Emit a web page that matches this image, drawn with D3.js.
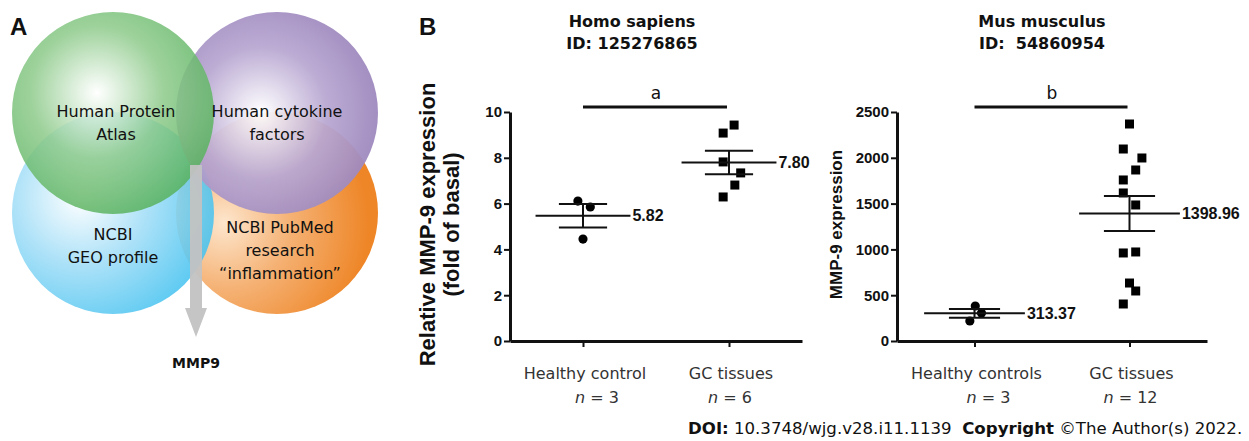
<!DOCTYPE html>
<html>
<head>
<meta charset="utf-8">
<script src="https://cdn.jsdelivr.net/npm/d3@7.9.0/dist/d3.min.js"></script>
<style>
  body { margin: 0; background: #fff; }
  svg { display: block; }
  .venn-label { font-family: "DejaVu Sans", Verdana, sans-serif; font-size: 16px; fill: #111; }
  .title { font-family: "DejaVu Sans", Verdana, sans-serif; font-size: 16px; font-weight: bold; fill: #111; }
  .panel { font-family: "Liberation Sans", Arial, sans-serif; font-size: 24px; font-weight: bold; fill: #111; }
  .tick text, .mean-label { font-family: "Liberation Sans", Arial, sans-serif; font-weight: bold; fill: #111; }
  .ylabel { font-family: "Liberation Sans", Arial, sans-serif; font-weight: bold; fill: #111; }
  .xlabel { font-family: "DejaVu Sans", Verdana, sans-serif; font-size: 16px; fill: #333; }
  .footer { font-family: "DejaVu Sans", Verdana, sans-serif; font-size: 16.6px; fill: #111; }
</style>
</head>
<body>
<svg id="fig" width="1249" height="441"></svg>
<script>
// ---- panel A: venn sources
const vennNames = ["NCBI PubMed", "NCBI GEO", "Human cytokine", "Human Protein Atlas"];
const vennLines = [
  ["NCBI PubMed", "research", "\u201Cinflammation\u201D"],
  ["NCBI", "GEO profile"],
  ["Human cytokine", "factors"],
  ["Human Protein", "Atlas"],
];
const vennCol = [1, 0, 1, 0];
const vennRow = [1, 1, 0, 0];
const vennColors = [
  ["#fde6cd", "#f5b275", "#ee8526"],
  ["#ffffff", "#a3def7", "#3bbfef"],
  ["#ffffff", "#b9a8d2", "#8f77b2"],
  ["#ffffff", "#8fcb8c", "#47aa50"],
];
const vennResult = "MMP9";

// ---- panel B: Homo sapiens
const homoTitle = ["Homo sapiens", "ID: 125276865"];
const homoGroups = ["Healthy control", "GC tissues"];
const homoN = [3, 6];
const homoHealthy = [6.11, 5.85, 4.45];
const homoGC = [9.43, 9.08, 7.82, 7.34, 6.81, 6.29];
const homoHealthyJitter = [-0.035, 0.05, 0];
const homoGCJitter = [0.035, -0.04, -0.04, 0.08, 0.04, -0.04];
const homoMeanLabels = ["5.82", "7.80"];
const homoTicks = [0, 2, 4, 6, 8, 10];
const homoYLabel = ["Relative MMP-9 expression", "(fold of basal)"];

// ---- panel B: Mus musculus
const musTitle = ["Mus musculus", "ID:\u00A0 54860954"];
const musGroups = ["Healthy controls", "GC tissues"];
const musN = [3, 12];
const musHealthy = [382, 305, 218];
const musGC = [2369, 2096, 1998, 1867, 1758, 1616, 1485, 961, 972, 633, 546, 404];
const musHealthyJitter = [0.005, 0.045, -0.03];
const musGCJitter = [0, -0.04, 0.08, 0.04, -0.04, -0.04, 0.04, -0.04, 0.04, 0, 0.04, -0.04];
const musMeanLabels = ["313.37", "1398.96"];
const musTicks = [0, 500, 1000, 1500, 2000, 2500];
const musYLabel = ["MMP-9 expression"];

const svg = d3.select("#fig");
const defs = svg.append("defs");

function renderVenn() {
  const g = svg.append("g");
  g.append("text").attr("class", "panel").attr("x", 10).attr("y", 35).text("A");

  const cx = d3.scaleLinear().domain([0, 1]).range([113, 277]);
  const cy = d3.scaleLinear().domain([0, 1]).range([113, 213]);
  const r = 101;
  const opacity = [1, 0.87, 0.95, 0.86];
  const focus = [[0.24, 0.55], [0.34, 0.42], [0.42, 0.5], [0.42, 0.4]];

  vennNames.forEach((name, i) => {
    const grad = defs.append("radialGradient")
      .attr("id", "venn" + i)
      .attr("cx", focus[i][0]).attr("cy", focus[i][1]).attr("r", 0.72);
    grad.append("stop").attr("offset", "0%").attr("stop-color", vennColors[i][0]);
    grad.append("stop").attr("offset", "45%").attr("stop-color", vennColors[i][1]);
    grad.append("stop").attr("offset", "100%").attr("stop-color", vennColors[i][2]);

    g.append("circle")
      .attr("cx", cx(vennCol[i]))
      .attr("cy", cy(vennRow[i]))
      .attr("r", r)
      .attr("fill", `url(#venn${i})`)
      .attr("fill-opacity", opacity[i]);
  });

  // grey arrow to result
  const ax = (cx(0) + cx(1)) / 2 + 1;
  g.append("path")
    .attr("d", d3.line()([
      [ax - 6, 165], [ax + 6, 165], [ax + 6, 308], [ax + 11, 308],
      [ax, 337], [ax - 11, 308], [ax - 6, 308],
    ]))
    .attr("fill", "#c2c2c2")
    .attr("fill-opacity", 0.95);

  const textOffset = [[3, 227], [0, 234], [0, 111], [3, 111]];
  vennLines.forEach((lines, i) => {
    const x = cx(vennCol[i]) + textOffset[i][0];
    lines.forEach((line, k) => {
      g.append("text")
        .attr("class", "venn-label")
        .attr("x", x)
        .attr("y", textOffset[i][1] + k * 23)
        .attr("dy", "0.35em")
        .attr("text-anchor", "middle")
        .text(line);
    });
  });

  g.append("text")
    .attr("class", "title")
    .attr("x", ax)
    .attr("y", 363)
    .attr("dy", "0.35em")
    .attr("text-anchor", "middle")
    .style("font-size", "14px")
    .text(vennResult);
}

function renderDotPlot({
  title, titleX, groups, n, series, jitters, meanLabels, ticks, yMax, yLabel,
  yLabelSize, yLabelX, sigLetter, left, right, top = 112, bottom = 341,
}) {
  const g = svg.append("g");
  const x = d3.scalePoint().domain(groups).range([left, right]).padding(0.5);
  const y = d3.scaleLinear().domain([0, yMax]).range([bottom, top]);
  const step = x.step();

  // titles
  title.forEach((t, k) => {
    g.append("text")
      .attr("class", "title")
      .attr("x", titleX)
      .attr("y", 21 + k * 22)
      .attr("dy", "0.35em")
      .attr("text-anchor", "middle")
      .text(t);
  });

  // axes
  const yAxis = g.append("g")
    .attr("transform", `translate(${left},0)`)
    .call(
      d3.axisLeft(y)
        .tickValues(ticks)
        .tickFormat(d3.format("d"))
        .tickSize(6)
        .tickSizeOuter(0)
        .tickPadding(2)
    );
  yAxis.selectAll("text").style("font-size", "15px");

  const xAxis = g.append("g")
    .attr("transform", `translate(0,${bottom})`)
    .call(d3.axisBottom(x).tickSize(6).tickSizeOuter(0).tickFormat(""));

  [yAxis, xAxis].forEach((axis) => {
    axis.select(".domain").attr("stroke", "#111").attr("stroke-width", 3);
    axis.selectAll(".tick line").attr("stroke", "#111").attr("stroke-width", 2);
  });

  // y label
  yLabel.forEach((line, k) => {
    g.append("text")
      .attr("class", "ylabel")
      .attr("transform", `translate(${yLabelX + k * 24},${(top + bottom) / 2 - 2}) rotate(-90)`)
      .attr("dy", "0.35em")
      .attr("text-anchor", "middle")
      .style("font-size", yLabelSize + "px")
      .text(line);
  });

  // category labels
  groups.forEach((name, i) => {
    g.append("text")
      .attr("class", "xlabel")
      .attr("x", x(name) + 2)
      .attr("y", 373)
      .attr("dy", "0.35em")
      .attr("text-anchor", "middle")
      .text(name);
    const nl = g.append("text")
      .attr("class", "xlabel")
      .attr("x", x(name) + (i === 0 ? 14 : 1))
      .attr("y", 397)
      .attr("dy", "0.35em")
      .attr("text-anchor", "middle");
    nl.append("tspan").style("font-style", "italic").text("n");
    nl.append("tspan").text(" = " + n[i]);
  });

  // significance bar
  g.append("line")
    .attr("x1", x(groups[0])).attr("x2", x(groups[1]) - 2)
    .attr("y1", top - 5).attr("y2", top - 5)
    .attr("stroke", "#111").attr("stroke-width", 3);
  g.append("text")
    .attr("class", "xlabel")
    .attr("x", (x(groups[0]) + x(groups[1])) / 2)
    .attr("y", top - 19)
    .attr("dy", "0.35em")
    .attr("text-anchor", "middle")
    .style("fill", "#111")
    .style("font-size", "17px")
    .text(sigLetter);

  const symbols = [d3.symbolCircle, d3.symbolSquare];
  const symbolSize = [66, 81];

  series.forEach((values, i) => {
    const cxPos = x(groups[i]);
    const mean = d3.mean(values);
    const sem = d3.deviation(values) / Math.sqrt(values.length);
    const meanHalf = step * 0.325;
    const semHalf = step * 0.165;

    g.append("g")
      .selectAll("path")
      .data(values)
      .join("path")
      .attr("transform", (d, k) => `translate(${cxPos + jitters[i][k] * step},${y(d)})`)
      .attr("d", d3.symbol(symbols[i], symbolSize[i]))
      .attr("fill", "#000");

    const stats = g.append("g").attr("stroke", "#111").attr("stroke-width", 2);
    stats.append("line")
      .attr("x1", cxPos - meanHalf).attr("x2", cxPos + meanHalf)
      .attr("y1", y(mean)).attr("y2", y(mean));
    [mean - sem, mean + sem].forEach((v) => {
      stats.append("line")
        .attr("x1", cxPos - semHalf).attr("x2", cxPos + semHalf)
        .attr("y1", y(v)).attr("y2", y(v));
    });
    stats.append("line")
      .attr("x1", cxPos).attr("x2", cxPos)
      .attr("y1", y(mean - sem)).attr("y2", y(mean + sem));

    g.append("text")
      .attr("class", "mean-label")
      .attr("x", cxPos + meanHalf + 2)
      .attr("y", y(mean))
      .attr("dy", "0.36em")
      .style("font-size", "16px")
      .text(meanLabels[i]);
  });
}

function renderFooter() {
  const t = svg.append("text").attr("class", "footer").attr("x", 688).attr("y", 434);
  t.append("tspan").style("font-weight", "bold").text("DOI:");
  t.append("tspan").text(" 10.3748/wjg.v28.i11.1139\u00A0 ");
  t.append("tspan").style("font-weight", "bold").text("Copyright");
  t.append("tspan").text(" \u00A9The Author(s) 2022.");
}

renderVenn();

svg.append("text").attr("class", "panel").attr("x", 419).attr("y", 35).text("B");

renderDotPlot({
  title: homoTitle,
  titleX: 632,
  groups: homoGroups,
  n: homoN,
  series: [homoHealthy, homoGC],
  jitters: [homoHealthyJitter, homoGCJitter],
  meanLabels: homoMeanLabels,
  ticks: homoTicks,
  yMax: 10,
  yLabel: homoYLabel,
  yLabelSize: 22,
  yLabelX: 427,
  sigLetter: "a",
  left: 510,
  right: 802,
});

renderDotPlot({
  title: musTitle,
  titleX: 1042,
  groups: musGroups,
  n: musN,
  series: [musHealthy, musGC],
  jitters: [musHealthyJitter, musGCJitter],
  meanLabels: musMeanLabels,
  ticks: musTicks,
  yMax: 2500,
  yLabel: musYLabel,
  yLabelSize: 17,
  yLabelX: 836,
  sigLetter: "b",
  left: 897,
  right: 1207,
});

renderFooter();
</script>
</body>
</html>
